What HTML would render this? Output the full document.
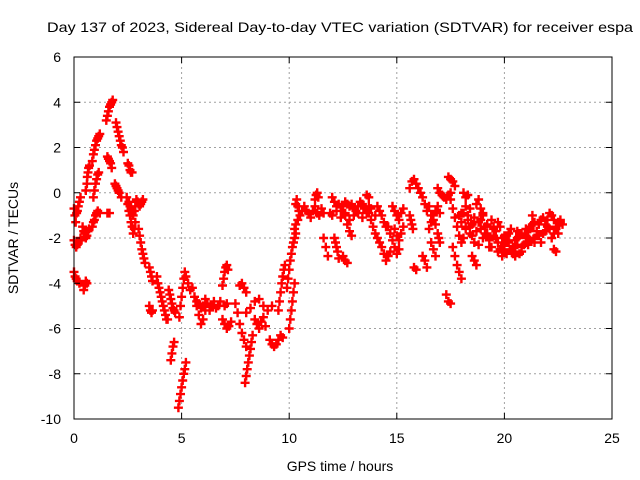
<!DOCTYPE html>
<html><head><meta charset="utf-8"><style>
html,body{margin:0;padding:0;background:#fff;}
svg{display:block;font-family:"Liberation Sans",sans-serif;}
</style></head><body>
<svg id="chart" width="640" height="480" viewBox="0 0 640 480" xmlns="http://www.w3.org/2000/svg">
<rect x="0" y="0" width="640" height="480" fill="#fff"/>
<text x="47" y="32" font-size="14" textLength="586" lengthAdjust="spacingAndGlyphs" fill="#000">Day 137 of 2023, Sidereal Day-to-day VTEC variation (SDTVAR) for receiver espa</text>
<g id="grid"></g>
<g id="marks"></g>
<rect x="74" y="57" width="538" height="362" fill="none" stroke="#000" stroke-width="1"/>
<g id="ticks"></g>
<text transform="translate(18,238) rotate(-90)" font-size="14" text-anchor="middle">SDTVAR / TECUs</text>
<text x="340" y="471" font-size="14" text-anchor="middle">GPS time / hours</text>
</svg>
<script>
const xTicks = [0,5,10,15,20,25];
const yTicks = [-10,-8,-6,-4,-2,0,2,4,6];
const trackTimes = [
[0,0.04,0.08,0.12,0.16,0.2,0.25,0.3],
[0,0.05,0.1,0.15,0.2,0.3,0.35],
[0,0.05,0.1,0.15,0.2,0.25],
[0.45,0.5,0.55,0.6],
[0.4,0.45,0.5,0.55,0.6,0.65,0.7],
[0.55,0.6,0.62,0.65,0.68,0.72],
[0.85,0.9,0.95,1.0,1.05,1.1,1.15,1.2],
[0.9,0.95,1.0,1.05,1.1,1.15],
[0.85,0.9,0.95,1.0,1.05,1.1,1.2],
[1.5,1.55,1.6,1.65,1.7,1.75,1.8],
[1.55,1.6,1.65,1.7,1.75],
[1.55,1.65],
[1.95,2.0,2.05,2.1,2.15,2.2,2.25,2.3],
[2.5,2.55,2.6,2.65,2.7],
[1.9,1.95,2.0,2.05,2.1,2.2],
[2.45,2.5,2.55,2.6,2.65,2.7,2.75,2.8,2.85],
[2.9,2.95,3.0,3.05,3.1,3.15,3.2],
[3.0,3.05,3.1,3.15,3.2,3.25,3.3],
[3.5,3.55,3.6,3.65],
[3.5,3.55,3.6,3.65],
[3.85,3.9,3.95,4.0,4.05,4.1,4.15,4.2,4.25,4.3,4.35],
[4.4,4.45,4.5,4.55,4.6,4.65,4.7],
[4.5,4.55,4.6,4.65],
[4.85,4.9,4.95,5.0,5.05,5.1,5.15,5.2],
[4.9,4.95,5.0,5.05,5.1,5.15,5.2,5.3,5.4],
[5.5,5.6,5.7,5.8,5.9,6.0,6.1],
[5.7,5.8,5.9,6.0,6.1,6.2,6.3,6.4,6.5,6.6,6.7,6.8,7.0,7.1],
[6.9,6.95,7.0,7.05,7.1,7.15],
[6.9,7.0,7.1,7.2,7.3],
[7.5,7.6,7.7,7.8,7.9,8.0],
[7.95,8.0,8.05,8.1,8.15,8.2,8.25,8.3],
[7.7,7.8,7.9,8.0],
[8.0,8.2,8.4,8.6,8.8,9.0,9.2],
[8.4,8.5,8.6,8.7,8.8,8.9],
[9.1,9.2,9.3,9.4,9.5,9.6,9.7],
[9.5,9.55,9.6,9.65,9.7,9.75,9.8],
[10.0,10.05,10.1,10.15,10.2,10.25],
[9.9,9.95,10.0,10.05,10.1,10.15,10.2,10.25,10.3],
[10.25,10.3,10.4,10.5,10.6,10.7],
[10.3,10.35,10.4,10.45],
[10.8,10.9,11.0,11.1,11.2,11.3,11.4,11.5,11.6],
[11.2,11.25,11.3,11.35],
[11.6,11.7,11.8],
[12.0,12.1,12.2,12.3,12.4,12.5,12.6,12.7],
[12.1,12.15,12.2,12.25,12.3],
[12.6,12.7,12.8,12.9],
[12.8,12.9,13.0,13.1,13.2,13.3,13.4,13.5,13.6,13.7],
[12.5,12.6,12.7],
[13.6,13.7],
[13.7,13.8,13.9,14.0,14.1,14.2],
[14.1,14.2,14.3,14.4,14.5],
[14.3,14.4,14.5,14.6,14.7],
[14.6,14.7,14.8,14.9,15.0,15.1],
[14.8,14.9,15.0,15.1,15.2,15.3],
[15.6,15.7,15.8,15.9,16.0,16.1,16.2],
[15.6,15.65,15.7,15.75],
[15.8,15.9],
[16.2,16.3,16.4],
[16.2,16.3,16.4,16.5,16.6,16.7,16.8],
[16.6,16.7,16.8],
[16.9,16.95,17.0],
[17.3,17.4,17.5],
[17.4,17.5,17.6,17.7],
[16.9,17.0,17.1,17.2,17.3,17.4,17.5],
[17.5,17.6,17.7,17.8,17.9,18.0,18.1],
[17.6,17.7,17.8,17.9,18.0],
[18.1,18.2,18.3],
[18.2,18.3,18.4,18.5,18.6],
[18.5,18.6,18.7],
[18.9,19.1,19.3,19.5,19.7,19.9,20.1,20.3,20.5,20.7],
[19.0,19.2,19.4,19.6,19.8,20.0,20.2,20.4,20.6,20.8,21.0],
[21.0,21.2,21.4,21.6,21.8,22.0,22.2,22.4,22.6],
[21.1,21.3,21.5,21.7,21.9,22.1,22.3,22.5,22.7],
[22.3,22.4],
[18.7,18.8,18.9,19.0],
[19.1,19.3,19.5,19.7,19.9,20.1,20.3,20.5,20.7,20.9],
[20.0,20.2,20.4,20.6,20.8,21.0,21.2,21.4],
[2.55,2.6,2.65,2.7,2.75,2.8,2.85],
[11.9,12.0,12.2,12.4,12.6,12.8,13.0,13.2,13.4,13.6,13.8,14.0],
[14.9,15.0,15.1,15.2,15.3],
[16.5,16.6,16.7,16.8,16.9,17.0],
[17.9,18.0,18.1,18.2,18.3,18.4,18.5,18.6,18.7,18.8,18.9,19.0,19.1],
[19.2,19.4,19.6,19.8,20.0,20.2,20.4,20.6,20.8,21.0,21.2,21.4,21.6,21.8,22.0,22.2,22.4,22.6],
[19.3,19.5,19.7,19.9,20.1,20.3,20.5,20.7,20.9,21.1,21.3,21.5,21.7,21.9,22.1,22.3,22.5],
[18.0,18.2,18.4,18.6,18.8,19.0,19.2]
];
const trackValues = [
[-0.7,-1.0,-1.3,-0.9,-0.8,-0.6,-0.4,-0.2],
[-2.1,-2.3,-2.4,-2.3,-2.2,-2.0,-2.1],
[-3.5,-3.7,-3.8,-3.9,-3.9,-4.0],
[-4.3,-4.1,-3.9,-4.0],
[-1.5,-1.7,-1.8,-2.0,-1.9,-1.7,-1.6],
[0.1,0.4,0.7,0.9,1.1,1.2],
[1.4,1.7,1.9,2.1,2.3,2.4,2.5,2.6],
[-0.2,0.1,0.4,0.6,0.8,0.9],
[-1.5,-1.3,-1.2,-1.0,-0.9,-0.8,-0.9],
[3.2,3.4,3.6,3.8,3.9,4.0,4.1],
[1.6,1.5,1.4,1.3,1.1],
[-0.9,-0.9],
[3.1,2.9,2.7,2.5,2.3,2.1,2.0,1.8],
[1.3,1.2,1.0,0.9,0.9],
[0.4,0.3,0.2,0.1,0.0,-0.2],
[-0.2,-0.5,-0.8,-1.0,-1.3,-1.5,-1.8,-1.6,-1.3],
[-0.3,-0.4,-0.5,-0.6,-0.5,-0.4,-0.3],
[-1.6,-1.9,-2.2,-2.5,-2.7,-2.9,-3.1],
[-3.3,-3.5,-3.7,-3.9],
[-5.0,-5.2,-5.3,-5.2],
[-3.7,-4.0,-4.2,-4.4,-4.6,-4.8,-5.0,-5.2,-5.4,-5.6,-5.6],
[-4.3,-4.5,-4.7,-4.9,-5.1,-5.2,-5.3],
[-7.4,-7.1,-6.8,-6.6],
[-9.5,-9.2,-8.9,-8.6,-8.3,-8.0,-7.8,-7.5],
[-5.5,-5.0,-4.6,-4.2,-3.8,-3.5,-3.7,-4.0,-4.3],
[-4.2,-4.6,-5.0,-5.4,-5.8,-5.6,-5.2],
[-4.8,-4.9,-5.1,-5.0,-4.7,-4.9,-5.2,-5.0,-4.8,-5.1,-5.0,-4.8,-5.0,-4.9],
[-4.1,-3.8,-3.5,-3.3,-3.2,-3.4],
[-5.6,-5.8,-6.0,-5.9,-5.7],
[-4.9,-5.3,-5.8,-6.2,-6.5,-6.8],
[-8.4,-8.1,-7.8,-7.5,-7.2,-6.9,-6.6,-6.3],
[-4.1,-4.0,-4.2,-4.4],
[-5.3,-5.1,-4.8,-4.7,-5.0,-5.2,-5.0],
[-5.6,-5.8,-6.0,-5.7,-5.5,-5.9],
[-6.5,-6.7,-6.8,-6.7,-6.5,-6.3,-6.4],
[-5.2,-4.8,-4.4,-4.0,-3.7,-3.4,-3.2],
[-6.0,-5.6,-5.2,-4.8,-4.4,-4.0],
[-4.2,-3.8,-3.4,-3.0,-2.7,-2.4,-2.2,-2.0,-1.8],
[-1.6,-1.4,-1.2,-1.0,-0.8,-0.6],
[-0.5,-0.3,-0.6,-0.8],
[-0.8,-0.9,-1.1,-0.8,-0.6,-0.9,-1.0,-0.7,-0.9],
[-0.3,-0.1,0.0,-0.2],
[-2.0,-2.4,-2.8],
[-0.2,-0.4,-0.6,-0.5,-0.8,-0.6,-0.4,-0.5],
[-2.0,-2.2,-2.4,-2.6,-2.9],
[-1.0,-1.4,-1.7,-1.9],
[-0.6,-0.5,-0.7,-0.8,-0.6,-0.4,-0.5,-0.7,-0.9,-0.6],
[-2.8,-3.0,-3.1],
[-0.1,-0.2],
[-0.9,-1.2,-1.5,-1.8,-2.0,-2.2],
[-0.6,-0.8,-1.0,-1.3,-1.5],
[-2.4,-2.7,-3.0,-2.8,-2.6],
[-1.5,-1.8,-2.1,-2.4,-2.7,-2.5],
[-0.6,-0.8,-1.0,-1.2,-0.9,-0.7],
[0.2,0.5,0.6,0.4,0.2,0.0,-0.2],
[-1.0,-1.2,-1.4,-1.6],
[-3.3,-3.4],
[-2.8,-3.0,-3.3],
[-0.2,-0.5,-0.8,-0.6,-1.0,-1.2,-1.4],
[-2.2,-2.5,-2.8],
[-1.8,-2.0,-2.2],
[-4.5,-4.8,-4.9],
[0.7,0.6,0.5,0.3],
[0.2,0.0,-0.1,-0.2,-0.3,-0.1,0.0],
[-0.3,-0.7,-1.1,-1.5,-1.9,-2.2,-2.0],
[-2.4,-2.8,-3.2,-3.5,-3.8],
[0.0,-0.2,-0.1],
[-0.6,-1.0,-1.5,-1.9,-2.2],
[-2.8,-3.0,-3.2],
[-1.2,-1.8,-2.4,-1.6,-2.2,-2.8,-1.9,-2.5,-2.1,-2.7],
[-1.0,-1.4,-1.2,-2.0,-1.5,-2.3,-1.8,-2.4,-2.0,-2.6,-2.2],
[-1.6,-2.1,-1.3,-1.9,-1.1,-1.5,-1.0,-1.6,-1.2],
[-2.3,-1.0,-1.7,-2.2,-1.4,-0.9,-1.8,-1.3,-1.4],
[-2.5,-2.6],
[-0.5,-0.3,-0.7,-0.9],
[-1.5,-2.1,-1.9,-1.3,-2.5,-2.2,-1.6,-2.8,-1.8,-2.3],
[-2.6,-2.1,-2.7,-1.7,-2.4,-1.9,-1.5,-2.0],
[-0.4,-0.6,-0.7,-0.9,-1.0,-0.8,-0.6],
[-0.9,-1.0,-0.8,-1.1,-0.9,-1.2,-1.0,-0.9,-1.1,-0.8,-0.7,-1.0],
[-1.6,-1.9,-2.1,-1.8,-1.5],
[-1.6,-1.3,-1.0,-0.8,-0.6,-0.9],
[-1.0,-1.3,-0.9,-1.5,-1.2,-1.8,-1.4,-1.1,-1.7,-1.3,-1.6,-2.0,-1.5],
[-1.8,-2.4,-1.7,-2.5,-1.9,-2.2,-2.6,-2.3,-1.8,-2.0,-1.6,-2.2,-1.4,-1.8,-1.2,-2.0,-1.5,-1.3],
[-2.0,-1.5,-2.6,-2.0,-2.7,-1.6,-2.4,-1.9,-2.3,-1.7,-1.4,-1.9,-1.2,-1.7,-1.6,-1.2,-1.8],
[-0.9,-1.6,-0.7,-1.3,-2.3,-1.0,-1.4]
];
const X0=74,X1=612,Y0=419,Y1=57,XMIN=0,XMAX=25,YMIN=-10,YMAX=6;
function xs(t){return X0+(t-XMIN)/(XMAX-XMIN)*(X1-X0);}
function ys(v){return Y0-(v-YMIN)/(YMAX-YMIN)*(Y0-Y1);}
const NS="http://www.w3.org/2000/svg";
const grid=document.getElementById('grid'),ticks=document.getElementById('ticks'),marks=document.getElementById('marks');
function mk(tag,attrs,parent){const e=document.createElementNS(NS,tag);for(const k in attrs)e.setAttribute(k,attrs[k]);parent.appendChild(e);return e;}
xTicks.forEach(t=>{
  const x=xs(t);
  if(t>XMIN&&t<XMAX){const g=mk('line',{x1:x,y1:Y0,x2:x,y2:Y1,stroke:'#a0a0a0','stroke-dasharray':'2,3'},grid);
  
  }
  mk('line',{x1:x,y1:Y0,x2:x,y2:Y0-6,stroke:'#000'},ticks);
  mk('line',{x1:x,y1:Y1,x2:x,y2:Y1+6,stroke:'#000'},ticks);
  const l=mk('text',{x:x,y:443,'font-size':14,'text-anchor':'middle'},ticks);
  l.textContent=t;
  
  
});
yTicks.forEach(v=>{
  const y=ys(v);
  if(v>YMIN&&v<YMAX){const g=mk('line',{x1:X0,y1:y,x2:X1,y2:y,stroke:'#a0a0a0','stroke-dasharray':'2,3'},grid);
  
  }
  mk('line',{x1:X0,y1:y,x2:X0+6,y2:y,stroke:'#000'},ticks);
  mk('line',{x1:X1,y1:y,x2:X1-6,y2:y,stroke:'#000'},ticks);
  const l=mk('text',{x:61,y:y+5,'font-size':14,'text-anchor':'end'},ticks);
  l.textContent=v;
  
  
});
let d='';
trackTimes.forEach((ts,i)=>{
  const vs=trackValues[i];
  ts.forEach((t,j)=>{
    const x=xs(t),y=ys(vs[j]);
    d+='M'+(x-4.5).toFixed(1)+' '+y.toFixed(1)+'h9M'+x.toFixed(1)+' '+(y-4.5).toFixed(1)+'v9';
  });
});
const p=mk('path',{d:d,stroke:'#ff0000','stroke-width':2.4,fill:'none'},marks);


</script>
</body></html>
